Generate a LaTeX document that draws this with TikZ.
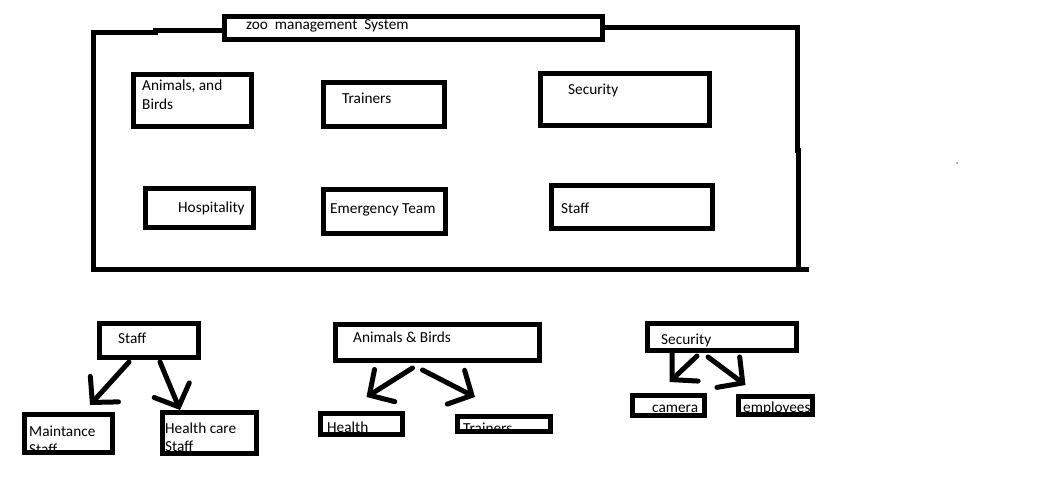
\documentclass[tikz,border=0pt]{standalone}
\usepackage{fontspec}
\setmainfont{Carlito}
\usetikzlibrary{arrows.meta,calc}

\tikzset{
  box/.style={draw, line width=5pt, inner sep=0pt, anchor=north west},
  frame/.style={line width=5pt},
  txt/.style={anchor=base west, inner sep=0pt, font=\fontsize{15.3}{18}\selectfont},
  arr/.style={line width=5pt, line cap=round, -{Straight Barb[length=18pt, width=38pt, line cap=round]}}
}

\begin{document}
\begin{tikzpicture}[x=1pt, y=-1pt]

  \useasboundingbox (0, 0) rectangle (1039, 503);

  % texts first, borders are painted over them
  \node[txt] (tTitle) at (246, 30) {zoo~ management~ System};
  \node[txt] (tAnimalsA) at (142, 91) {Animals, and};
  \node[txt] (tAnimalsB) at (142, 109) {Birds};
  \node[txt] (tTrainers) at (342, 103) {Trainers};
  \node[txt] (tSecurity) at (568, 94) {Security};
  \node[txt] (tHospitality) at (178, 212) {Hospitality};
  \node[txt] (tEmergency) at (330, 213) {Emergency Team};
  \node[txt] (tStaff) at (561, 213) {Staff};

  \node[txt] (tStaffB) at (118, 343) {Staff};
  \node[txt] (tMaintA) at (29, 436) {Maintance};
  \node[txt] (tMaintB) at (29, 454) {Staff};
  \node[txt] (tCareA) at (165, 433) {Health care};
  \node[txt] (tCareB) at (165, 451) {Staff};
  \node[txt] (tAnimalsC) at (353, 342) {Animals \& Birds};
  \node[txt] (tHealth) at (327, 432) {Health};
  \node[txt] (tTrainersB) at (463, 433) {Trainers};
  \node[txt] (tSecurityB) at (661, 344) {Security};
  \node[txt] (tCamera) at (652, 412) {camera};
  \node[txt] (tEmployees) at (743, 412) {employees};

  % system frame
  \node[box, minimum width=378pt, minimum height=23pt] (title) at (222, 14) {};
  \draw[frame] (title.west |- 0, 31) -- (155, 31) -- (155, 33) -- (93, 33) -- (93, 269) -- (809, 269);
  \draw[frame] (title.east |- 0, 28) -- (797, 28) -- (797, 150) -- (798, 150) -- (798, 269);

  \node[box, minimum width=118pt, minimum height=52pt] (animals) at (131, 72) {};
  \node[box, minimum width=121pt, minimum height=44pt] (trainers) at (321, 80) {};
  \node[box, minimum width=169pt, minimum height=52pt] (security) at (538, 71) {};
  \node[box, minimum width=108pt, minimum height=39pt] (hospitality) at (143, 186) {};
  \node[box, minimum width=122pt, minimum height=44pt] (emergency) at (321, 187) {};
  \node[box, minimum width=161pt, minimum height=43pt] (staff) at (549, 183) {};

  % breakdowns
  \node[box, minimum width=99pt, minimum height=34pt] (staffB) at (97, 321) {};
  \node[box, minimum width=88pt, minimum height=38pt] (maint) at (22, 412) {};
  \node[box, minimum width=94pt, minimum height=41pt] (care) at (160, 410) {};

  \node[box, minimum width=204pt, minimum height=36pt] (animalsB) at (333, 322) {};
  \node[box, minimum width=82pt, minimum height=21pt] (health) at (318, 411) {};
  \node[box, minimum width=93pt, minimum height=15pt] (trainersB) at (455, 414) {};

  \node[box, minimum width=149pt, minimum height=27pt] (securityB) at (645, 321) {};
  \node[box, minimum width=72pt, minimum height=20pt] (camera) at (630, 393) {};
  \node[box, minimum width=74pt, minimum height=18pt] (employees) at (736, 394) {};

  \draw[arr] ($(staffB.south)+(-20, 2)$) -- ($(maint.north east)+(-25, -7)$);
  \draw[arr] ($(staffB.south)+(11, 2)$) -- ($(care.north west)+(20, 0)$);
  \draw[arr] ($(animalsB.south)+(-25, 5)$) -- ($(health.north)+(5, -14)$);
  \draw[arr] ($(animalsB.south)+(-15, 7)$) -- ($(trainersB.north)+(-29, -17)$);
  \draw[arr] ($(securityB.south)+(-25, 3)$) -- ($(camera.north)+(1, -11)$);
  \draw[arr] ($(securityB.south)+(-14, 4)$) -- ($(employees.north)+(-30, -9)$);

  \fill[gray] (957, 163) circle (1);

\end{tikzpicture}
\end{document}
